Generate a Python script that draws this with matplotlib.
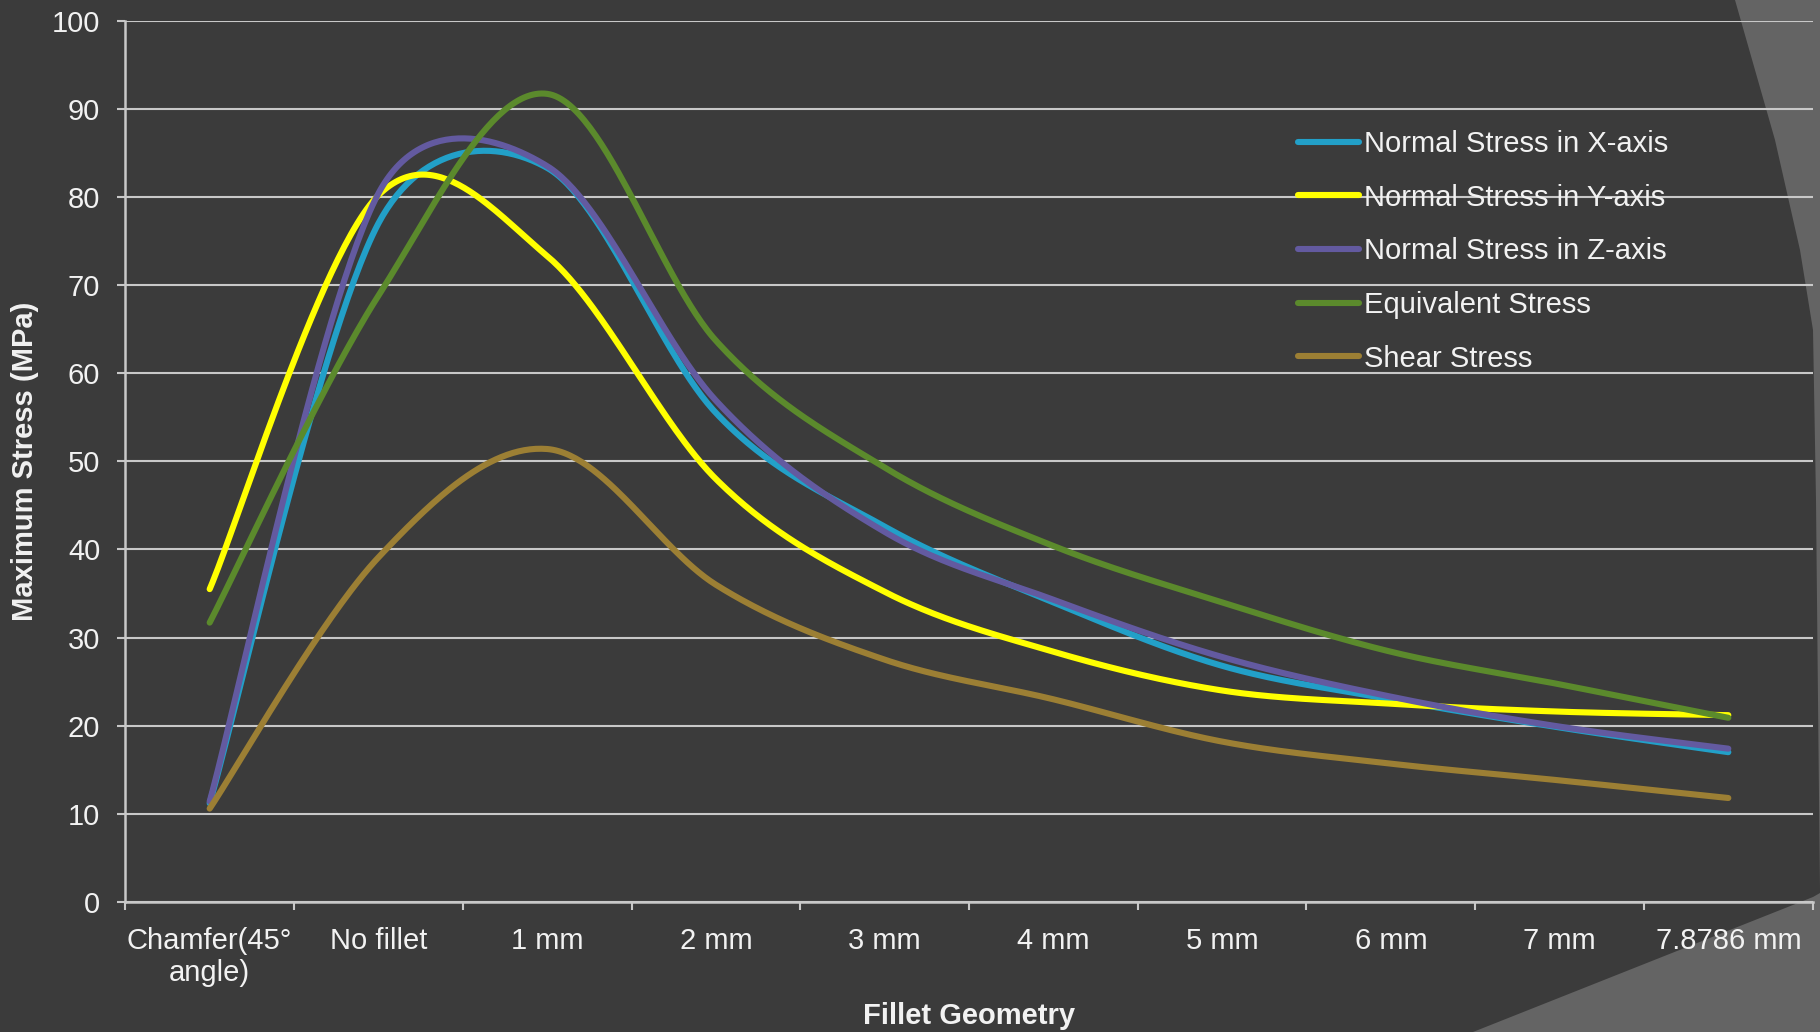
import numpy as np
import matplotlib
matplotlib.use("Agg")
import matplotlib.pyplot as plt
from matplotlib.patches import Polygon

plt.rcParams["font.family"] = ["Liberation Sans", "DejaVu Sans"]

# ------------------------------------------
# datos
# ------------------------------------------
categorias = [
    "Chamfer(45°\nangle)", "No fillet", "1 mm", "2 mm", "3 mm",
    "4 mm", "5 mm", "6 mm", "7 mm", "7.8786 mm",
]

esfuerzo_x = [11.2, 77.0, 83.3, 55.5, 42.6, 34.0, 26.8, 23.0, 19.8, 17.0]
esfuerzo_y = [35.5, 80.2, 73.3, 48.0, 35.2, 28.4, 24.0, 22.5, 21.6, 21.2]
esfuerzo_z = [11.4, 80.4, 83.5, 56.9, 42.0, 34.3, 27.8, 23.3, 19.9, 17.4]
equivalente = [31.7, 68.8, 91.7, 63.7, 49.3, 40.4, 34.0, 28.4, 24.7, 20.9]
cortante = [10.6, 39.1, 51.4, 36.0, 27.5, 23.0, 18.2, 15.7, 13.8, 11.8]

series = [
    ("Normal Stress in X-axis", esfuerzo_x, "#22a0c8"),
    ("Normal Stress in Y-axis", esfuerzo_y, "#ffff00"),
    ("Normal Stress in Z-axis", esfuerzo_z, "#635aa0"),
    ("Equivalent Stress", equivalente, "#5b8a2c"),
    ("Shear Stress", cortante, "#9c7f34"),
]

fondo = "#3b3b3b"
gris_linea = "#c8c8c8"
texto = "#f2f2f2"
tam = 21

W, H = 1820, 1032
fig = plt.figure(figsize=(W / 100, H / 100), dpi=100, facecolor=fondo)

# franjas decorativas del fondo (pixeles de la figura)
franja_sup = [(1735, 0), (1775, 140), (1800, 250), (1813, 330),
              (1816, 500), (1818, 700), (1820, 890), (1820, 0)]
franja_inf = [(1473, 1032), (1813, 897), (1820, 893), (1820, 1032)]
for forma in (franja_sup, franja_inf):
    pts = [(x / W, 1 - y / H) for x, y in forma]
    fig.patches.append(
        Polygon(pts, closed=True, transform=fig.transFigure,
                facecolor="#646464", edgecolor="none", zorder=0)
    )

ax = fig.add_axes([125.3 / W, 1 - 902 / H,
                   (1812.7 - 125.3) / W, (902 - 20.7) / H])
ax.set_zorder(2)
ax.set_facecolor("none")
ax.set_xlim(0, len(categorias))
ax.set_ylim(0, 100)


# ------------------------------------------
# suavizado tipo Excel (Bezier por tramos)
# ------------------------------------------
def curva_suave(xs, ys, n=60):
    pts = ax.transData.transform(np.column_stack([xs, ys]))
    salida = []
    for i in range(len(pts) - 1):
        p0 = pts[i - 1] if i > 0 else pts[i]
        p1 = pts[i]
        p2 = pts[i + 1]
        p3 = pts[i + 2] if i + 2 < len(pts) else pts[i + 1]
        d02 = np.linalg.norm(p2 - p0)
        d12 = np.linalg.norm(p2 - p1)
        d13 = np.linalg.norm(p3 - p1)
        f1 = 1 / 6 if d02 / 6 < d12 / 2 else d12 / (2 * d02)
        f2 = 1 / 6 if d13 / 6 < d12 / 2 else d12 / (2 * d13)
        c1 = p1 + f1 * (p2 - p0)
        c2 = p2 - f2 * (p3 - p1)
        t = np.linspace(0, 1, n)[:, None]
        tramo = ((1 - t) ** 3 * p1 + 3 * (1 - t) ** 2 * t * c1
                 + 3 * (1 - t) * t ** 2 * c2 + t ** 3 * p2)
        salida.append(tramo if i == 0 else tramo[1:])
    salida = np.vstack(salida)
    datos = ax.transData.inverted().transform(salida)
    return datos[:, 0], datos[:, 1]


centros = np.arange(len(categorias)) + 0.5

for nombre, valores, color in series:
    xs, ys = curva_suave(centros, valores)
    ax.plot(xs, ys, color=color, lw=4.4, label=nombre,
            solid_capstyle="round", solid_joinstyle="round",
            zorder=3)

# ------------------------------------------
# ejes y rejilla
# ------------------------------------------
for lado in ["top", "right"]:
    ax.spines[lado].set_visible(False)
for lado in ["left", "bottom"]:
    ax.spines[lado].set_color(gris_linea)
    ax.spines[lado].set_linewidth(1.8)

ax.set_yticks(np.arange(0, 101, 10))
ax.grid(axis="y", color=gris_linea, lw=1.5, zorder=1)
ax.set_axisbelow(True)

ax.set_xticks(np.arange(0, len(categorias) + 1))
ax.set_xticklabels([])
ax.set_xticks(centros, minor=True)
ax.set_xticklabels(categorias, minor=True, fontsize=tam, color=texto,
                   linespacing=1.2)

ax.tick_params(axis="y", direction="out", length=6, width=1.5,
               color=gris_linea, labelsize=tam, labelcolor=texto, pad=12)
ax.tick_params(axis="x", which="major", direction="out", length=6,
               width=1.5, color=gris_linea)
ax.tick_params(axis="x", which="minor", length=0, pad=18)

fig.text(25 / W, 1 - 461 / H, "Maximum Stress (MPa)", rotation=90,
         ha="center", va="center", fontsize=21, fontweight="bold",
         color=texto)
fig.text(969 / W, 1 - 1016 / H, "Fillet Geometry", ha="center",
         va="center", fontsize=21, fontweight="bold", color=texto)

leyenda = ax.legend(
    loc="upper left", bbox_to_anchor=(1298 / W, 1 - 130 / H),
    bbox_transform=fig.transFigure, frameon=False, fontsize=tam,
    handlelength=2.1, handletextpad=0.15, labelspacing=0.88,
    borderpad=0, borderaxespad=0,
)
for t in leyenda.get_texts():
    t.set_color(texto)

fig.savefig("out.png", dpi=100, facecolor=fondo)
